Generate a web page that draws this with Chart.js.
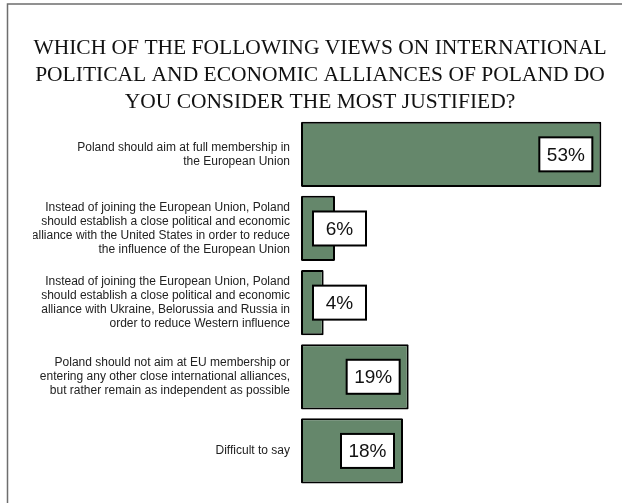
<!DOCTYPE html>
<html>
<head>
<meta charset="utf-8">
<script src="https://cdn.jsdelivr.net/npm/chart.js@4/dist/chart.umd.min.js"></script>
<style>
  body { margin: 0; background: #fff; }
  #wrap { width: 622px; height: 503px; }
</style>
</head>
<body>
<div id="wrap"><canvas id="viewsChart" width="622" height="503"></canvas></div>
<script>
var titleLines = [
    'WHICH OF THE FOLLOWING VIEWS ON INTERNATIONAL',
    'POLITICAL AND ECONOMIC ALLIANCES OF POLAND DO',
    'YOU CONSIDER THE MOST JUSTIFIED?'
];
var categories = [
    ['Poland should aim at full membership in', 'the European Union'],
    ['Instead of joining the European Union, Poland', 'should establish a close political and economic', 'alliance with the United States in order to reduce', 'the influence of the European Union'],
    ['Instead of joining the European Union, Poland', 'should establish a close political and economic', 'alliance with Ukraine, Belorussia and Russia in', 'order to reduce Western influence'],
    ['Poland should not aim at EU membership or', 'entering any other close international alliances,', 'but rather remain as independent as possible'],
    ['Difficult to say']
];
var percentages = [53, 6, 4, 19, 18];

// grey frame on the top and left edges
var framePlugin = {
    id: 'frame',
    beforeDraw: function(chart) {
        var c = chart.ctx;
        c.save();
        c.strokeStyle = '#6e6e6e';
        c.lineWidth = 1.5;
        c.beginPath();
        c.moveTo(7.5, 503);
        c.lineTo(7.5, 4);
        c.lineTo(622, 4);
        c.stroke();
        c.restore();
    }
};

// white boxed value labels inside each bar
var boxLabels = {
    id: 'boxLabels',
    afterDatasetsDraw: function(chart) {
        var c = chart.ctx;
        var meta = chart.getDatasetMeta(0);
        var w = 53, h = 34;
        c.save();
        meta.data.forEach(function(bar, i) {
            var left;
            if (bar.x - bar.base > w + 24) {
                left = bar.x - 9 - w;
            } else {
                left = bar.base + 12;
            }
            var top = bar.y - h / 2;
            c.fillStyle = '#ffffff';
            c.fillRect(left, top, w, h);
            c.strokeStyle = '#000000';
            c.lineWidth = 2;
            c.strokeRect(left, top, w, h);
            c.fillStyle = '#111111';
            c.font = '19px "Liberation Sans", Arial, sans-serif';
            c.textAlign = 'center';
            c.textBaseline = 'middle';
            c.fillText(percentages[i] + '%', left + w / 2, bar.y + 1);
        });
        c.restore();
    }
};

var ctx = document.getElementById('viewsChart').getContext('2d');
var viewsChart = new Chart(ctx, {
    type: 'bar',
    data: {
        labels: categories,
        datasets: [{
            data: percentages,
            backgroundColor: 'rgb(101, 135, 107)',
            borderColor: '#000000',
            borderWidth: 2,
            borderSkipped: false,
            borderRadius: 1,
            barPercentage: 0.88,
            categoryPercentage: 1
        }]
    },
    options: {
        indexAxis: 'y',
        responsive: false,
        animation: false,
        layout: {
            padding: { top: 25, right: 15, bottom: 15, left: 33 }
        },
        plugins: {
            legend: { display: false },
            tooltip: { enabled: false },
            title: {
                display: true,
                text: titleLines,
                color: '#111111',
                font: { family: '"Liberation Serif", "Times New Roman", serif', size: 21.5, weight: 'normal', lineHeight: 1.26 },
                padding: { top: 10, bottom: 1 }
            }
        },
        scales: {
            x: {
                display: false,
                min: 0,
                max: 54
            },
            y: {
                afterFit: function(scale) {
                    scale.width = 268;
                    scale.paddingTop = 0;
                    scale.paddingBottom = 0;
                },
                grid: { display: false, drawTicks: false },
                border: { display: false },
                ticks: {
                    padding: 11,
                    color: '#222222',
                    font: { family: '"Liberation Sans", Arial, sans-serif', size: 12, lineHeight: 1.17 }
                }
            }
        }
    },
    plugins: [framePlugin, boxLabels]
});
</script>
</body>
</html>
